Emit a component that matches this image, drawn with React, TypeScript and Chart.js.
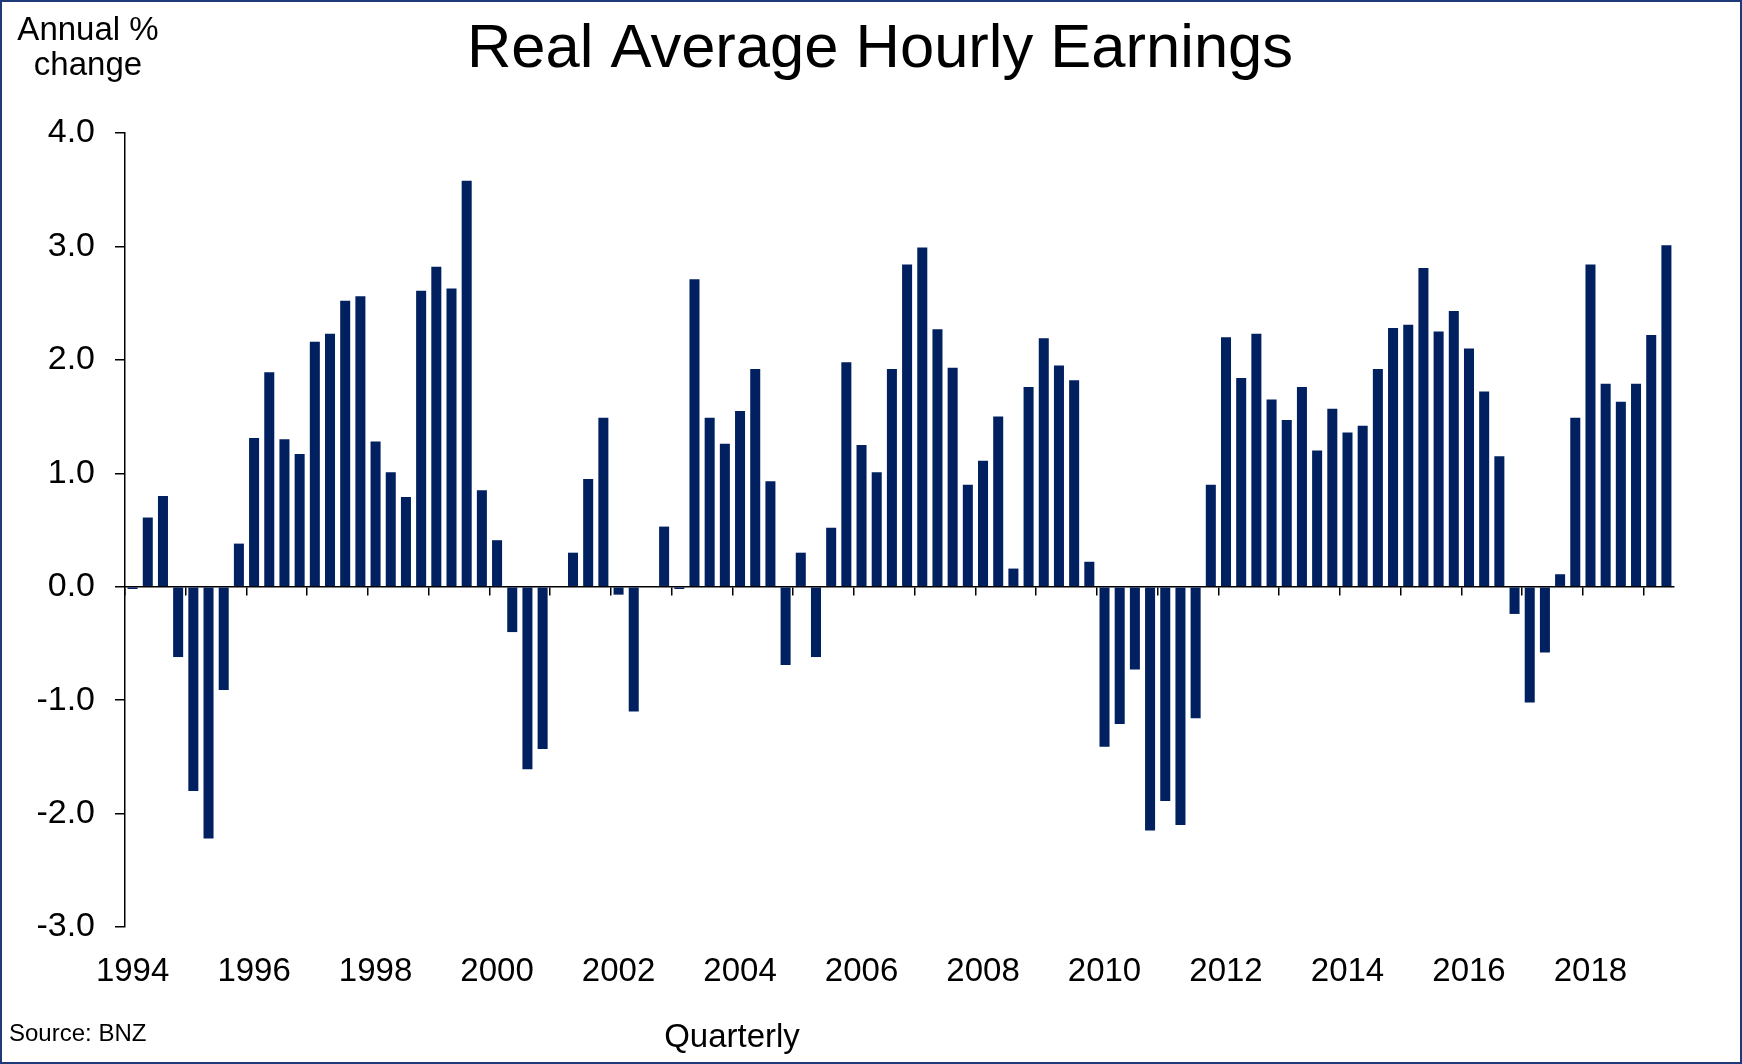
import React, { useEffect, useRef } from 'react';
import { Chart, registerables } from 'chart.js';

Chart.register(...registerables);

const FONT = '"Liberation Sans", Arial, Helvetica, sans-serif';

const chartTitle = 'Real Average Hourly Earnings';
const yAxisTitle = ['Annual %', 'change'];
const xAxisTitle = 'Quarterly';
const sourceNote = 'Source: BNZ';

const firstYear = 1994;
const quarterCount = 102;
const quarterLabels: string[] = Array.from(
  { length: quarterCount },
  (_, i) => `${firstYear + Math.floor(i / 4)} Q${(i % 4) + 1}`
);

const yearTickLabels = [
  '1994', '1996', '1998', '2000', '2002', '2004', '2006',
  '2008', '2010', '2012', '2014', '2016', '2018',
];

// Annual % change, quarterly, 1994 Q1 – 2019 Q2
const realEarningsGrowth = [
  -0.02, 0.61, 0.8, -0.62,
  -1.8, -2.22, -0.91, 0.38,
  1.31, 1.89, 1.3, 1.17,
  2.16, 2.23, 2.52, 2.56,
  1.28, 1.01, 0.79, 2.61,
  2.82, 2.63, 3.58, 0.85,
  0.41, -0.4, -1.61, -1.43,
  0.0, 0.3, 0.95, 1.49,
  -0.07, -1.1, 0.0, 0.53,
  -0.02, 2.71, 1.49, 1.26,
  1.55, 1.92, 0.93, -0.69,
  0.3, -0.62, 0.52, 1.98,
  1.25, 1.01, 1.92, 2.84,
  2.99, 2.27, 1.93, 0.9,
  1.11, 1.5, 0.16, 1.76,
  2.19, 1.95, 1.82, 0.22,
  -1.41, -1.21, -0.73, -2.15,
  -1.89, -2.1, -1.16, 0.9,
  2.2, 1.84, 2.23, 1.65,
  1.47, 1.76, 1.2, 1.57,
  1.36, 1.42, 1.92, 2.28,
  2.31, 2.81, 2.25, 2.43,
  2.1, 1.72, 1.15, -0.24,
  -1.02, -0.58, 0.11, 1.49,
  2.84, 1.79, 1.63, 1.79,
  2.22, 3.01,
];

const yMin = -3;
const yMax = 4;
const yStep = 1;

const BAR_COLOR = '#002060';
const FRAME_COLOR = '#1f3a78';

const W = 1742;
const H = 1064;

const decorations = {
  id: 'decorations',
  beforeDraw(chart: any) {
    const ctx = chart.ctx;
    ctx.save();
    ctx.fillStyle = '#ffffff';
    ctx.fillRect(0, 0, chart.width, chart.height);
    ctx.restore();
  },
  afterDraw(chart: any) {
    const ctx = chart.ctx;
    ctx.save();
    ctx.fillStyle = '#000000';
    ctx.textBaseline = 'alphabetic';
    ctx.textAlign = 'center';
    ctx.font = `61.5px ${FONT}`;
    ctx.fillText(chartTitle, 880, 67);
    ctx.font = `33px ${FONT}`;
    ctx.fillText(yAxisTitle[0], 88, 40);
    ctx.fillText(yAxisTitle[1], 88, 75);
    ctx.fillText(xAxisTitle, 732, 1047);
    ctx.textAlign = 'left';
    ctx.font = `24px ${FONT}`;
    ctx.fillText(sourceNote, 9, 1041);
    ctx.strokeStyle = FRAME_COLOR;
    ctx.lineWidth = 2;
    ctx.strokeRect(1, 1, chart.width - 2, chart.height - 2);
    ctx.restore();
  },
};

export default function App() {
  const canvasRef = useRef<HTMLCanvasElement | null>(null);

  useEffect(() => {
    document.body.style.margin = '0';
    const canvas = canvasRef.current;
    if (!canvas) return;
    const chart = new Chart(canvas, {
      type: 'bar',
      data: {
        labels: quarterLabels,
        datasets: [
          {
            label: 'Real average hourly earnings',
            data: realEarningsGrowth,
            backgroundColor: BAR_COLOR,
            borderWidth: 0,
            barPercentage: 0.66,
            categoryPercentage: 1.0,
            xAxisID: 'x',
            yAxisID: 'y',
          },
        ],
      },
      options: {
        responsive: false,
        animation: false,
        devicePixelRatio: 1,
        layout: { padding: { top: 133, right: 68, bottom: 0, left: 0 } },
        plugins: {
          legend: { display: false },
          title: { display: false },
          tooltip: { enabled: false },
        },
        scales: {
          x: {
            type: 'category',
            position: 'bottom',
            offset: true,
            grid: { display: false, drawTicks: false, offset: true },
            border: { display: false },
            ticks: {
              autoSkip: false,
              maxRotation: 0,
              minRotation: 0,
              padding: 25,
              color: '#000',
              font: { family: FONT, size: 33 },
              callback: (_v: any, i: number) =>
                i % 8 === 0 ? yearTickLabels[i / 8] ?? '' : '',
            },
            afterFit: (s: any) => {
              s.height = H - 927;
            },
          },
          x2: {
            type: 'category',
            position: { y: 0 } as any,
            offset: true,
            z: 1,
            border: { display: true, color: '#000', width: 1.5 },
            grid: {
              offset: true,
              drawOnChartArea: false,
              drawTicks: true,
              tickLength: 8,
              lineWidth: 1.5,
              color: (c: any) => (c.index % 4 === 0 ? '#000' : 'rgba(0,0,0,0)'),
            },
            ticks: { display: false, autoSkip: false },
          },
          y: {
            type: 'linear',
            position: 'left',
            min: yMin,
            max: yMax,
            border: { display: true, color: '#000', width: 1.5 },
            grid: {
              drawOnChartArea: false,
              drawTicks: true,
              tickLength: 10,
              lineWidth: 1.5,
              color: '#000',
            },
            ticks: {
              stepSize: yStep,
              padding: 20,
              color: '#000',
              font: { family: FONT, size: 34 },
              callback: (v: any) => Number(v).toFixed(1),
            },
            afterFit: (s: any) => {
              s.width = 125;
            },
          },
        },
      },
      plugins: [decorations],
    });
    return () => chart.destroy();
  }, []);

  return (
    <div style={{ width: W, height: H, position: 'relative', background: '#fff' }}>
      <canvas ref={canvasRef} width={W} height={H} style={{ width: W, height: H, display: 'block' }} />
    </div>
  );
}
